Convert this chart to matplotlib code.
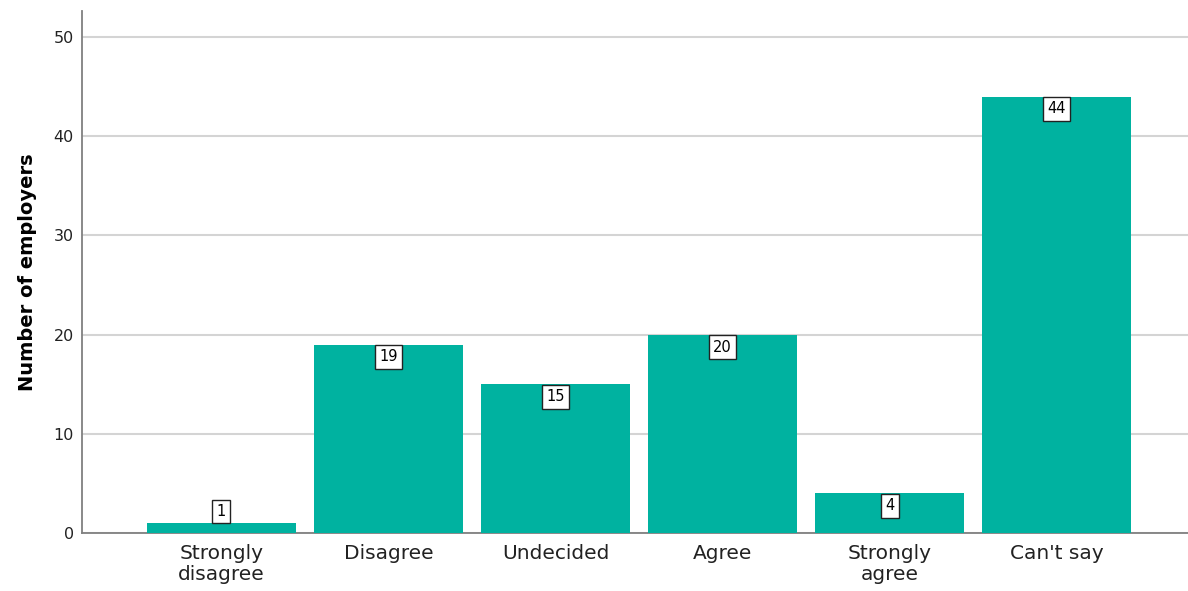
import numpy as np
import matplotlib.pyplot as plt

# --------------------------------------------------
# Data
# --------------------------------------------------

categories = ["Strongly\ndisagree", "Disagree", "Undecided", "Agree", "Strongly\nagree", "Can't say"]
counts = [1, 19, 15, 20, 4, 44]

bar_color = "#00B2A0"

# --------------------------------------------------
# Plot
# --------------------------------------------------

fig = plt.figure(figsize=(11.88, 5.91), dpi=100)
ax = fig.add_axes([0.069, 0.098, 0.931, 0.883])

x = np.arange(len(categories))
bars = ax.bar(x, counts, width=0.892, color=bar_color, zorder=3)

ax.set_xlim(-0.835, 5.787)
ax.set_ylim(0, 52.6)
ax.set_yticks([0, 10, 20, 30, 40, 50])
ax.yaxis.grid(True, color="#d4d4d4", linewidth=1.5, zorder=0)
ax.set_axisbelow(True)

ax.set_xticks(x)
ax.set_xticklabels(categories, fontsize=14.5, linespacing=1.1)
ax.tick_params(axis="x", length=0, pad=8, colors="#222222")
ax.tick_params(axis="y", length=0, pad=6, labelsize=11.5, colors="#222222")

for side in ["top", "right"]:
    ax.spines[side].set_visible(False)
for side in ["left", "bottom"]:
    ax.spines[side].set_color("#808080")
    ax.spines[side].set_linewidth(1.3)

ax.set_ylabel("Number of employers", fontsize=14, fontweight="bold", labelpad=12)

# value labels in white boxes at the top of each bar
box = dict(boxstyle="square,pad=0.3", facecolor="white", edgecolor="#222222", linewidth=1)
for xi, v in zip(x, counts):
    if v < 3:
        ax.annotate(str(v), (xi, v), xytext=(0, 3), textcoords="offset points",
                    ha="center", va="bottom", fontsize=10.5, bbox=box, zorder=5)
    else:
        ax.annotate(str(v), (xi, v), xytext=(0, -3.5), textcoords="offset points",
                    ha="center", va="top", fontsize=10.5, bbox=box, zorder=5)

plt.savefig("out.png", dpi=100)
plt.close(fig)
